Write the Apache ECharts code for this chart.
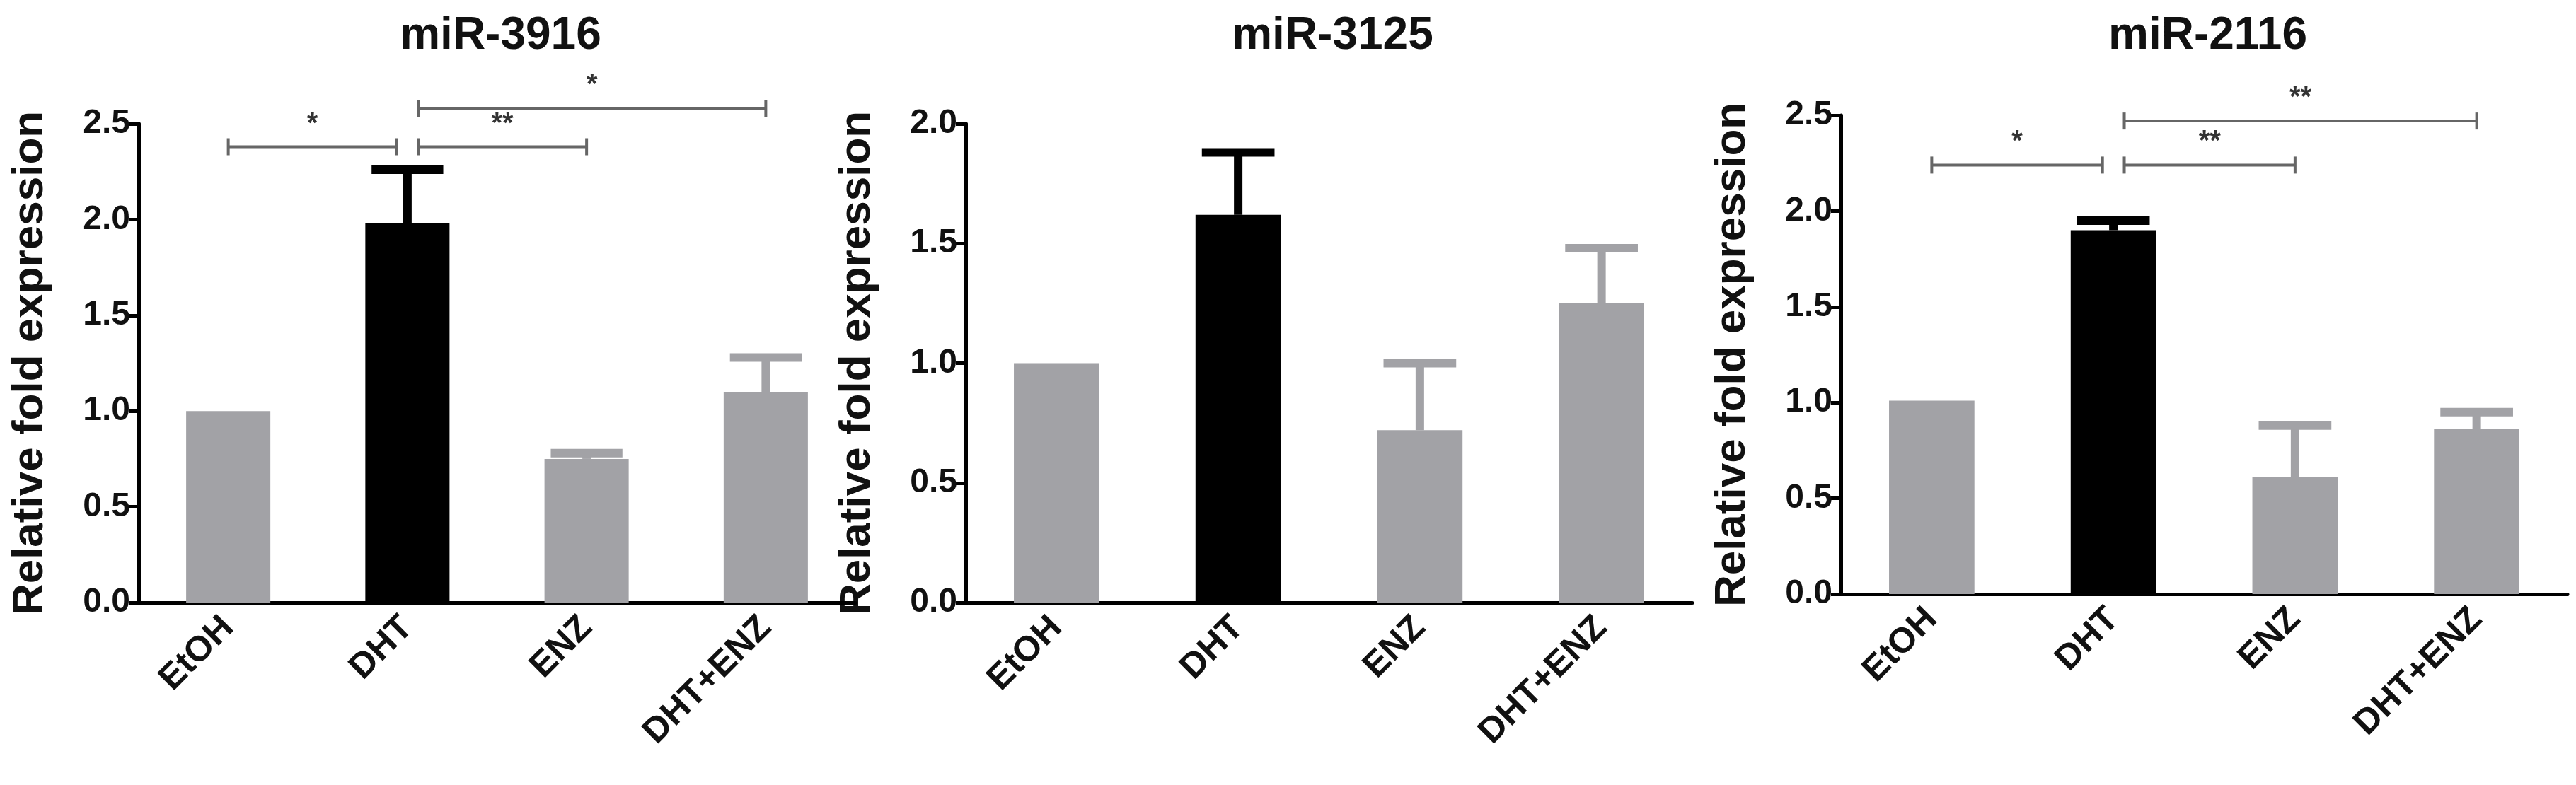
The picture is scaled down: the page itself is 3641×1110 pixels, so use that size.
<!DOCTYPE html>
<html><head><meta charset="utf-8">
<script src="https://cdn.jsdelivr.net/npm/echarts@6/dist/echarts.min.js"></script>
<style>html,body{margin:0;background:#fff}#c{width:3641px;height:1110px}</style>
</head><body><div id="c"></div>
<script>
const categories = ['EtOH','DHT','ENZ','DHT+ENZ'];
const titles = ['miR-3916','miR-3125','miR-2116'];
const means1 = [1.0, 1.98, 0.75, 1.10];
const upper1 = [1.0, 2.26, 0.78, 1.28];
const means2 = [1.0, 1.62, 0.72, 1.25];
const upper2 = [1.0, 1.88, 1.00, 1.48];
const means3 = [1.01, 1.90, 0.61, 0.86];
const upper3 = [1.01, 1.95, 0.88, 0.95];
const yMax = [2.5, 2.0, 2.5];
const yInterval = [0.5, 0.5, 0.5];
// brackets: [fromCat, toCat, y, label]
const brackets1 = [[0,1,2.38,'*'],[1,2,2.38,'**'],[1,3,2.58,'*']];
const brackets2 = [];
const brackets3 = [[0,1,2.24,'*'],[1,2,2.24,'**'],[1,3,2.47,'**']];

const means = [means1, means2, means3];
const uppers = [upper1, upper2, upper3];
const brackets = [brackets1, brackets2, brackets3];
const grids = [{left:196,width:1013},{left:1365,width:1027},{left:2602,width:1027}];
const gridTop = [175,175,163], gridBottom=[258,258,270];
const GRAY='#a2a2a6';
const font='Arial, "Liberation Sans", sans-serif';

const option = {animation:false, title:[], grid:[], xAxis:[], yAxis:[], series:[]};
for (let i=0;i<3;i++){
  option.grid.push({left:grids[i].left, width:grids[i].width, top:gridTop[i], bottom:gridBottom[i]});
  option.title.push({text:titles[i], left:grids[i].left+grids[i].width/2, top:14, textAlign:'center',
    textStyle:{fontFamily:font,fontWeight:'bold',fontSize:64,color:'#111'}});
  option.xAxis.push({type:'category', gridIndex:i, data:categories,
    axisLine:{lineStyle:{color:'#000',width:5}},
    axisTick:{alignWithLabel:true,length:18,lineStyle:{color:'#000',width:5}},
    axisLabel:{rotate:45,fontFamily:font,fontWeight:'bold',fontSize:50,color:'#111',margin:28}});
  option.yAxis.push({type:'value', gridIndex:i, min:0, max:yMax[i], interval:yInterval[i],
    name:'Relative fold expression', nameLocation:'middle', nameGap:122, nameRotate:90,
    nameTextStyle:{fontFamily:font,fontWeight:'bold',fontSize:62,color:'#111'},
    splitLine:{show:false},
    axisLine:{show:true,lineStyle:{color:'#000',width:5}},
    axisTick:{show:true,length:14,lineStyle:{color:'#000',width:5}},
    axisLabel:{fontFamily:font,fontWeight:'bold',fontSize:48,color:'#111',margin:12,formatter:v=>v.toFixed(1)}});
  option.series.push({type:'bar', xAxisIndex:i, yAxisIndex:i, barWidth:'47%',
    data: means[i].map((v,k)=>({value:v,itemStyle:{color:k===1?'#000':GRAY}}))});
  option.series.push({type:'custom', xAxisIndex:i, yAxisIndex:i, z:1,
    data: means[i].map((v,k)=>[k,v,uppers[i][k]]),
    renderItem:(p,api)=>{
      const k=api.value(0); if (api.value(2)<=api.value(1)) return;
      const a=api.coord([k,api.value(1)]), b=api.coord([k,api.value(2)]);
      const w=api.size([1,0])[0]*0.2;
      const c=k===1?'#000':GRAY;
      return {type:'group',children:[
        {type:'line',shape:{x1:a[0],y1:a[1],x2:b[0],y2:b[1]},style:{stroke:c,lineWidth:12}},
        {type:'line',shape:{x1:b[0]-w,y1:b[1],x2:b[0]+w,y2:b[1]},style:{stroke:c,lineWidth:12}}]};
    }});
  if (brackets[i].length) option.series.push({type:'custom', xAxisIndex:i, yAxisIndex:i, clip:false,
    data: brackets[i],
    renderItem:(p,api)=>{
      const f=api.value(0), t=api.value(1), y=api.value(2);
      const bw=api.size([1,0])[0];
      const A=api.coord([f,y]), B=api.coord([t,y]);
      const x1=A[0]+(f===1?bw*0.06:0), x2=B[0]-(t===1?bw*0.06:0);
      const st={stroke:'#666',lineWidth:4};
      return {type:'group',children:[
        {type:'line',shape:{x1:x1,y1:A[1],x2:x2,y2:A[1]},style:st},
        {type:'line',shape:{x1:x1,y1:A[1]-12,x2:x1,y2:A[1]+12},style:st},
        {type:'line',shape:{x1:x2,y1:A[1]-12,x2:x2,y2:A[1]+12},style:st},
        {type:'text',x:(x1+x2)/2,y:A[1]-12,style:{text:brackets[i][p.dataIndex][3],fill:'#333',
          font:'bold 40px Arial',textAlign:'center',textVerticalAlign:'bottom'}}]};
    }});
}
echarts.init(document.getElementById('c')).setOption(option);
</script></body></html>
